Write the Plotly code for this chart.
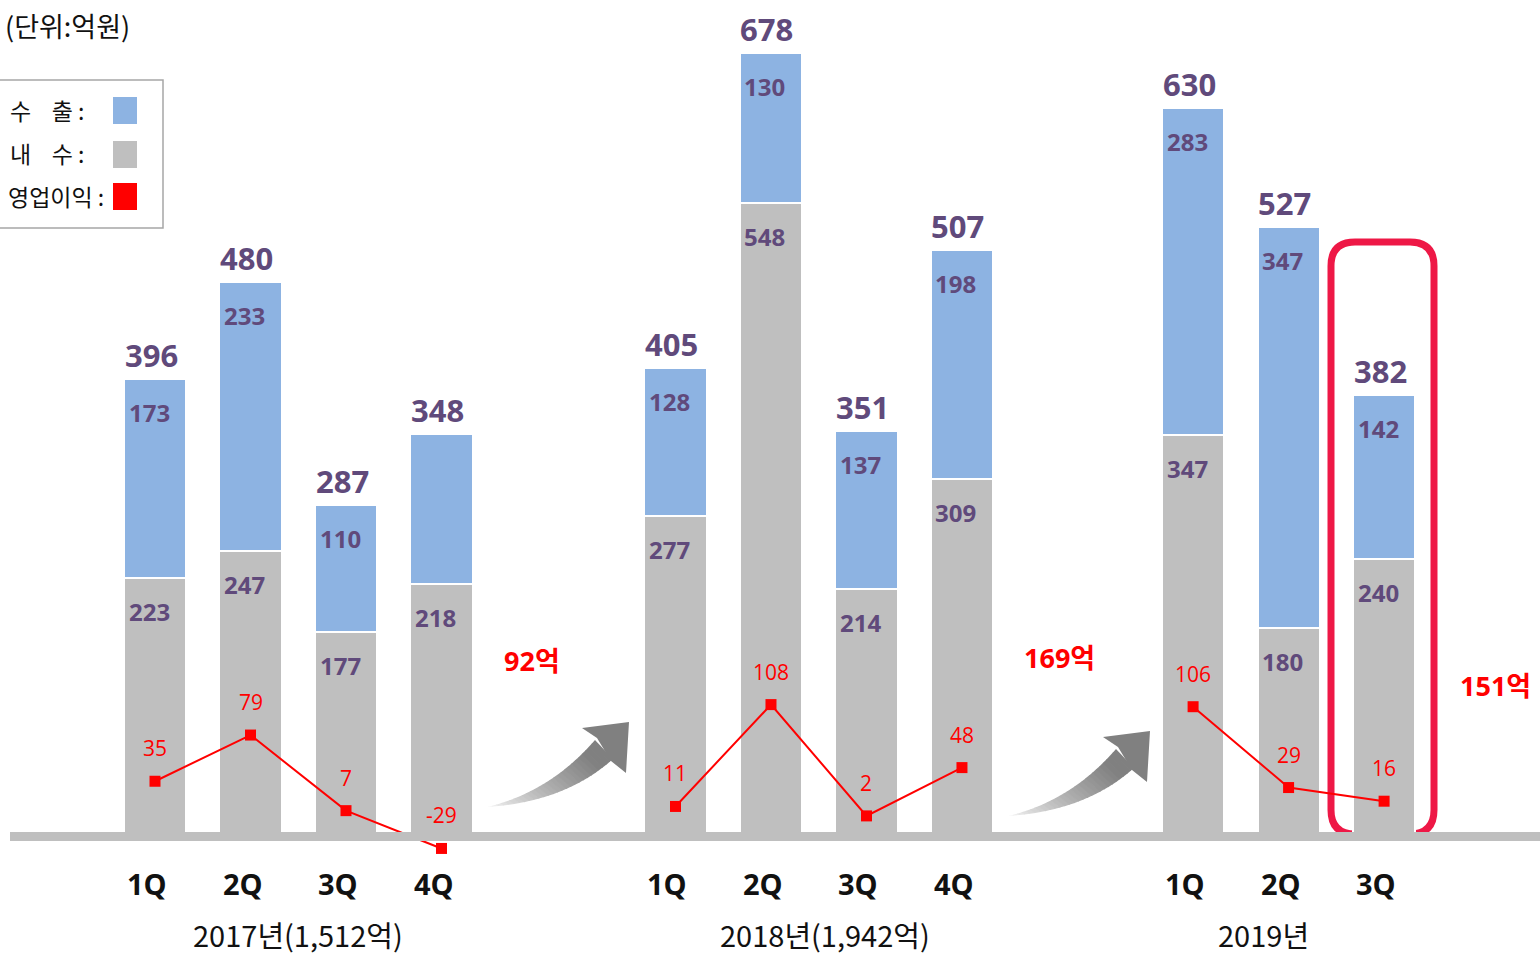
import plotly.graph_objects as go

# ---------------- data ----------------
years = ["2017", "2018", "2019"]
quarters = ["1Q", "2Q", "3Q", "4Q", "1Q", "2Q", "3Q", "4Q", "1Q", "2Q", "3Q"]
year_of = ["2017"] * 4 + ["2018"] * 4 + ["2019"] * 3
domestic = [223, 247, 177, 218, 277, 548, 214, 309, 347, 180, 240]   # 내수
export = [173, 233, 110, 130, 128, 130, 137, 198, 283, 347, 142]     # 수출
total = [396, 480, 287, 348, 405, 678, 351, 507, 630, 527, 382]
profit = [35, 79, 7, -29, 11, 108, 2, 48, 106, 29, 16]               # 영업이익
export_label_hidden = [3]  # 2017 4Q export value not labelled in the original
year_labels = ["2017년(1,512억)", "2018년(1,942억)", "2019년"]
year_profit = ["92억", "169억", "151억"]
unit_text = "(단위:억원)"

# ---------------- layout helpers ----------------
W, H = 1540, 958
GROUP_OFFSET = {"2017": 0.0, "2018": 5.45, "2019": 10.87}
qidx = {"1Q": 0, "2Q": 1, "3Q": 2, "4Q": 3}
xpos = [GROUP_OFFSET[y] + qidx[q] for y, q in zip(year_of, quarters)]

UNIT_PX = 95.5
X0_PX = 155
xr = [-X0_PX / UNIT_PX, (W - X0_PX) / UNIT_PX]
K1, Z1 = 1.155, 836
yr = [-(H - Z1) / K1, Z1 / K1]
K2, Z2 = 1.05, 818
y2r = [-(H - Z2) / K2, Z2 / K2]

def px(x):
    return x / W

def py(y):
    return 1 - y / H

GRAY = "#BFBFBF"
BLUE = "#8DB3E2"
RED = "#FF0000"
PURPLE = "#604A7B"
NUMF = "Open Sans, Noto Sans CJK KR"
KF = "Noto Sans CJK KR"

fig = go.Figure()
fig.add_trace(go.Bar(x=xpos, y=domestic, width=0.65, marker=dict(color=GRAY, line=dict(color="white", width=2)),
                     name="내수", hoverinfo="skip"))
fig.add_trace(go.Bar(x=xpos, y=export, width=0.65, marker=dict(color=BLUE, line=dict(color="white", width=2)),
                     name="수출", hoverinfo="skip"))

for yname in years:
    idx = [i for i, y in enumerate(year_of) if y == yname]
    fig.add_trace(go.Scatter(x=[xpos[i] for i in idx], y=[profit[i] for i in idx], yaxis="y2",
                             mode="lines+markers", line=dict(color=RED, width=2),
                             marker=dict(symbol="square", size=11, color=RED),
                             cliponaxis=False, hoverinfo="skip", name="영업이익"))

ann = []
for i, x in enumerate(xpos):
    ann.append(dict(x=x, y=total[i], xref="x", yref="y", text=f"<b>{total[i]}</b>", showarrow=False,
                    yanchor="bottom", yshift=1, xshift=-4, font=dict(family=NUMF, size=31, color=PURPLE)))
    ann.append(dict(x=x, y=domestic[i], xref="x", yref="y", text=f"<b>{domestic[i]}</b>", showarrow=False,
                    yanchor="top", yshift=-15, xshift=-6, font=dict(family=NUMF, size=24, color=PURPLE)))
    if i not in export_label_hidden:
        ann.append(dict(x=x, y=total[i], xref="x", yref="y", text=f"<b>{export[i]}</b>", showarrow=False,
                        yanchor="top", yshift=-15, xshift=-6, font=dict(family=NUMF, size=24, color=PURPLE)))
    ann.append(dict(x=x, y=profit[i], xref="x", yref="y2", text=str(profit[i]), showarrow=False,
                    yanchor="middle", yshift=33, font=dict(family=NUMF, size=21, color=RED)))
    ann.append(dict(x=x, y=py(883), xref="x", yref="paper", text=f"<b>{quarters[i]}</b>", showarrow=False,
                    yanchor="middle", xshift=-8, font=dict(family=NUMF, size=29, color="#111111")))

year_label_px = [298, 825, 1263]
for t, xp in zip(year_labels, year_label_px):
    ann.append(dict(x=px(xp), y=py(934), xref="paper", yref="paper", text=t, showarrow=False,
                    xanchor="center", yanchor="middle", font=dict(family=KF, size=29, color="#111111")))

for t, (xp, yp) in zip(year_profit, [(532, 660), (1059, 657), (1495, 685)]):
    ann.append(dict(x=px(xp), y=py(yp), xref="paper", yref="paper", text=f"<b>{t}</b>", showarrow=False,
                    xanchor="center", yanchor="middle", font=dict(family=NUMF, size=27, color=RED)))

ann.append(dict(x=px(3), y=py(25), xref="paper", yref="paper", text=unit_text, showarrow=False,
                xanchor="left", yanchor="middle", font=dict(family=KF, size=27, color="#111111")))

for t, xr_px, yp in [("수    출 :", 86, 110), ("내    수 :", 86, 153), ("영업이익 :", 106, 196)]:
    ann.append(dict(x=px(xr_px), y=py(yp), xref="paper", yref="paper", text=t, showarrow=False,
                    xanchor="right", yanchor="middle", font=dict(family=KF, size=23, color="#111111")))

shapes = []
# rounded highlight rectangle (below bars)
x1, x2, y1, y2, r = 1331, 1434, 242, 834, 24
path = (f"M {px(x1 + r)},{py(y1)} L {px(x2 - r)},{py(y1)} Q {px(x2)},{py(y1)} {px(x2)},{py(y1 + r)} "
        f"L {px(x2)},{py(y2 - r)} Q {px(x2)},{py(y2)} {px(x2 - r)},{py(y2)} "
        f"L {px(x1 + r)},{py(y2)} Q {px(x1)},{py(y2)} {px(x1)},{py(y2 - r)} "
        f"L {px(x1)},{py(y1 + r)} Q {px(x1)},{py(y1)} {px(x1 + r)},{py(y1)} Z")
shapes.append(dict(type="path", path=path, xref="paper", yref="paper", layer="below",
                   line=dict(color="#EE1846", width=7)))

# baseline band
shapes.append(dict(type="rect", xref="paper", yref="paper", x0=px(10), x1=px(1540), y0=py(841), y1=py(832),
                   fillcolor=GRAY, line=dict(width=0), layer="above"))

# curved gradient arrows
def qbez(p0, c, p1, t):
    return ((1 - t) ** 2 * p0[0] + 2 * (1 - t) * t * c[0] + t * t * p1[0],
            (1 - t) ** 2 * p0[1] + 2 * (1 - t) * t * c[1] + t * t * p1[1])

def arrow(dx, dy):
    out = []
    tail = (487 + dx, 807 + dy)
    lo_c, lo_e = (565 + dx, 802 + dy), (613 + dx, 759 + dy)
    up_c, up_e = (550 + dx, 792 + dy), (595 + dx, 740 + dy)
    n = 28
    for k in range(n):
        t0, t1 = k / n, (k + 1.15) / n
        t1 = min(t1, 1.0)
        a, b = qbez(tail, lo_c, lo_e, t0), qbez(tail, lo_c, lo_e, t1)
        c, d = qbez(tail, up_c, up_e, t1), qbez(tail, up_c, up_e, t0)
        f = (k + 0.5) / n
        g = int(250 - (250 - 128) * min(1.0, f ** 0.8 * 1.1))
        col = f"rgb({g},{g},{g})"
        p = f"M {px(a[0])},{py(a[1])} L {px(b[0])},{py(b[1])} L {px(c[0])},{py(c[1])} L {px(d[0])},{py(d[1])} Z"
        out.append(dict(type="path", path=p, xref="paper", yref="paper", fillcolor=col,
                        line=dict(width=0), layer="above"))
    pts = lambda x, y: f"{px(x + dx)},{py(y + dy)}"
    head = (f"M {pts(611, 761)} L {pts(626, 773)} L {pts(629, 722)} L {pts(582, 728)} L {pts(597, 738)} Z")
    out.append(dict(type="path", path=head, xref="paper", yref="paper", fillcolor="rgb(128,128,128)",
                    line=dict(width=0), layer="above"))
    return out

shapes += arrow(0, 0)
shapes += arrow(521, 9)

# legend box & swatches
shapes.append(dict(type="rect", xref="paper", yref="paper", x0=px(-5), x1=px(163), y0=py(228), y1=py(80),
                   line=dict(color="#A6A6A6", width=1.5), fillcolor="rgba(0,0,0,0)", layer="above"))
for c, yt in [(BLUE, 97), (GRAY, 141), (RED, 183)]:
    shapes.append(dict(type="rect", xref="paper", yref="paper", x0=px(113), x1=px(137), y0=py(yt + 27), y1=py(yt),
                       fillcolor=c, line=dict(width=0), layer="above"))

fig.update_layout(
    width=W, height=H, margin=dict(l=0, r=0, t=0, b=0),
    paper_bgcolor="white", plot_bgcolor="white",
    barmode="stack", bargap=0, showlegend=False,
    xaxis=dict(range=xr, visible=False, fixedrange=True),
    yaxis=dict(range=yr, visible=False, fixedrange=True),
    yaxis2=dict(range=y2r, overlaying="y", visible=False, fixedrange=True),
    annotations=ann, shapes=shapes,
)

fig.write_html("out.html", config={"displayModeBar": False},
               post_script="document.body.style.margin='0';document.body.style.overflow='hidden';")
